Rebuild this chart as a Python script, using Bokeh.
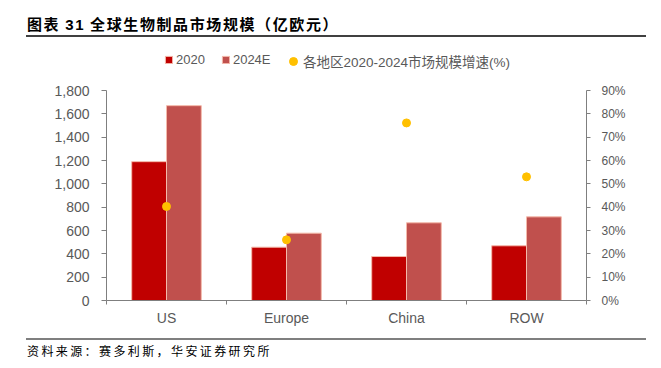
from bokeh.plotting import figure
from bokeh.models import (ColumnDataSource, Range1d, LinearAxis, FixedTicker,
                          NumeralTickFormatter, Legend, LegendItem, Div)
from bokeh.transform import dodge
from bokeh.layouts import column
from bokeh.embed import file_html
from bokeh.resources import INLINE

# ---- data ----
regions = ["US", "Europe", "China", "ROW"]
size_2020 = [1190, 457, 377, 469]
size_2024e = [1670, 577, 666, 717]
growth = [0.403, 0.26, 0.761, 0.53]
left_ticks = [0, 200, 400, 600, 800, 1000, 1200, 1400, 1600, 1800]
right_ticks = [0, 0.1, 0.2, 0.3, 0.4, 0.5, 0.6, 0.7, 0.8, 0.9]
title_text = "图表 <span style=\"font-family:'Liberation Sans';\">31</span> 全球生物制品市场规模（亿欧元）"
source_text = "资料来源：赛多利斯，华安证券研究所"
legend_labels = ["2020", "2024E", "各地区2020-2024市场规模增速(%)"]

xc = list(range(len(regions)))
src = ColumnDataSource(dict(xc=xc, region=regions, a=size_2020, b=size_2024e, g=growth))

LABEL_FONT = "Liberation Sans"
GRAY = "#595959"

# frame extends above the axes' top (room for the legend); axes are bounded
FRAME_H = 252
AXIS_H = 210
y_max = left_ticks[-1]
pct_max = right_ticks[-1]

p = figure(width=645, height=290, output_backend="svg", toolbar_location=None,
           x_range=Range1d(-0.5, len(regions) - 0.5),
           y_range=Range1d(0, y_max * FRAME_H / AXIS_H),
           min_border_left=98, min_border_right=67, min_border_top=0, min_border_bottom=38,
           x_axis_type=None, y_axis_type=None)
p.outline_line_color = None
p.grid.visible = False
p.extra_y_ranges = {"pct": Range1d(0, pct_max * FRAME_H / AXIS_H)}

bar_w = 0.29
r1 = p.vbar(x=dodge("xc", -bar_w / 2), top="a", width=bar_w, source=src,
            fill_color="#C00000", line_color="#F4B9AA", line_width=1)
r2 = p.vbar(x=dodge("xc", bar_w / 2), top="b", width=bar_w, source=src,
            fill_color="#C0504D", line_color="#F4B9AA", line_width=1)
r3 = p.scatter(x="xc", y="g", y_range_name="pct", source=src, size=8,
               fill_color="#FFC000", line_color="#FFC000")

# axes
xaxis = LinearAxis(ticker=FixedTicker(ticks=xc, minor_ticks=[i - 0.5 for i in range(len(regions) + 1)]),
                   major_label_overrides={i: r for i, r in zip(xc, regions)})
xaxis.major_tick_out = 0
xaxis.major_tick_in = 0
xaxis.minor_tick_out = 4
xaxis.minor_tick_in = 0
xaxis.minor_tick_line_color = "#7f7f7f"
xaxis.axis_line_color = "#7f7f7f"
xaxis.major_label_text_font = LABEL_FONT
xaxis.major_label_text_font_size = "14px"
xaxis.major_label_text_color = GRAY
xaxis.major_label_standoff = 5
p.add_layout(xaxis, "below")

yaxis = LinearAxis(ticker=FixedTicker(ticks=left_ticks), bounds=(0, y_max),
                   formatter=NumeralTickFormatter(format="0,0"))
yaxis.major_tick_out = 5
yaxis.major_tick_in = 0
yaxis.minor_tick_out = 0
yaxis.minor_tick_in = 0
yaxis.axis_line_color = "#7f7f7f"
yaxis.major_tick_line_color = "#7f7f7f"
yaxis.major_label_text_font = LABEL_FONT
yaxis.major_label_text_font_size = "14px"
yaxis.major_label_text_color = GRAY
yaxis.major_label_standoff = 12
p.add_layout(yaxis, "left")

raxis = LinearAxis(y_range_name="pct", ticker=FixedTicker(ticks=right_ticks), bounds=(0, pct_max),
                   formatter=NumeralTickFormatter(format="0%"))
raxis.major_tick_out = 4
raxis.major_tick_in = 0
raxis.minor_tick_out = 0
raxis.minor_tick_in = 0
raxis.axis_line_color = "#7f7f7f"
raxis.major_tick_line_color = "#7f7f7f"
raxis.major_label_text_font = LABEL_FONT
raxis.major_label_text_font_size = "12px"
raxis.major_label_text_color = GRAY
raxis.major_label_standoff = 11
p.add_layout(raxis, "right")

# legends
leg1 = Legend(items=[LegendItem(label=legend_labels[0], renderers=[r1]),
                     LegendItem(label=legend_labels[1], renderers=[r2])],
              orientation="horizontal", location=(58, 233),
              glyph_width=9, glyph_height=9, label_standoff=3, spacing=16,
              padding=0, margin=0, border_line_color=None, background_fill_alpha=0,
              label_text_font="Liberation Sans", label_text_font_size="13px",
              label_text_color=GRAY, label_height=13)
leg2 = Legend(items=[LegendItem(label=legend_labels[2], renderers=[r3])],
              orientation="horizontal", location=(177, 229),
              glyph_width=20, glyph_height=20, label_standoff=0, spacing=0,
              padding=0, margin=0, border_line_color=None, background_fill_alpha=0,
              label_text_font="Liberation Sans, Noto Sans CJK SC", label_text_font_size="13.5px",
              label_text_color=GRAY, label_height=13)
p.add_layout(leg1)
p.add_layout(leg2)

title_div = Div(width=645, height=40, margin=(0, 0, 0, 0), text=(
    '<div style="position:relative;width:645px;height:40px;">'
    '<div style="position:absolute;left:19px;top:7px;white-space:nowrap;'
    "font-family:'Noto Sans CJK SC';font-weight:bold;font-size:15px;line-height:18px;"
    'letter-spacing:1.6px;color:#000;">' + title_text + '</div>'
    '<div style="position:absolute;left:18px;top:27px;width:620px;height:0;'
    'border-top:2px solid #404040;"></div></div>'))

source_div = Div(width=645, height=22, margin=(0, 0, 0, 0), text=(
    '<div style="position:relative;width:645px;height:22px;">'
    '<div style="position:absolute;left:18px;top:0px;width:620px;height:0;'
    'border-top:2px solid #7f7f7f;"></div>'
    '<div style="position:absolute;left:19px;top:5px;white-space:nowrap;'
    "font-family:'Noto Sans CJK SC';font-size:12px;line-height:16px;"
    'letter-spacing:2.4px;color:#000;">' + source_text + '</div></div>'))

layout = column(title_div, p, source_div, spacing=0, margin=(8, 8, 8, 8))

open("out.html", "w").write(file_html(layout, INLINE))
